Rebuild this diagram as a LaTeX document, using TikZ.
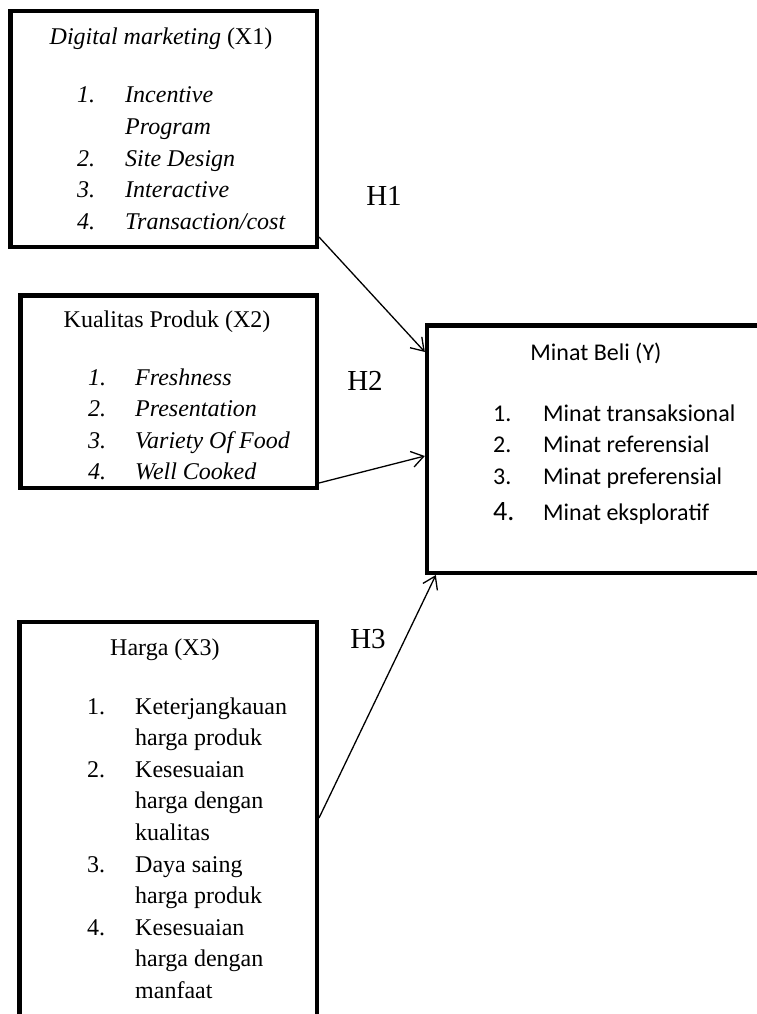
\documentclass[tikz,border=0pt]{standalone}
\usepackage{fontspec}
\setmainfont{Liberation Serif}[ItalicFont={Liberation Serif Italic},BoldFont={Liberation Serif Bold}]
\newfontfamily\calibri{Carlito}
\usetikzlibrary{arrows.meta,positioning,calc}

\tikzset{
  varbox/.style={draw,line width=4.5pt,rectangle,inner sep=0pt},
  boxtitle/.style={anchor=base,inner sep=0pt,font=\fontsize{24}{31.6}\selectfont},
  items/.style={anchor=base west,inner sep=0pt,font=\fontsize{24}{31.6}\selectfont},
  hyp/.style={anchor=base,inner sep=0pt,font=\fontsize{29}{34}\selectfont},
  path/.style={line width=1.3pt,-{Straight Barb[length=12pt,width=16pt]}}
}

\begin{document}
\begin{tikzpicture}[x=1pt,y=1pt]
\clip (0,0) rectangle (757,-1014);

% variable boxes
\node[varbox,minimum width=306.5pt,minimum height=235.5pt] (x1box) at (163.5,-129) {};
\node[varbox,minimum width=296.5pt,minimum height=192.5pt] (x2box) at (168.5,-391.5) {};
\node[varbox,minimum width=297.5pt,minimum height=408pt] (x3box) at (168,-826) {};
\node[varbox,minimum width=343pt,minimum height=247.5pt] (ybox) at (598.6,-449) {};

% X1
\node[boxtitle] (x1title) at (161,-45) {\textit{Digital marketing} (X1)};
\node[items,font=\fontsize{24}{31.6}\selectfont\itshape] (x1list) at (77,-103) {%
\begin{tabular}[t]{@{}p{48pt}@{}l@{}}
1. & Incentive\\
   & Program\\
2. & Site Design\\
3. & Interactive\\
4. & Transaction/cost
\end{tabular}};

% X2
\node[boxtitle] (x2title) at (167,-327) {Kualitas Produk (X2)};
\node[items,font=\fontsize{24}{31.6}\selectfont\itshape] (x2list) at (88,-385) {%
\begin{tabular}[t]{@{}p{47pt}@{}l@{}}
1. & Freshness\\
2. & Presentation\\
3. & Variety Of Food\\
4. & Well Cooked
\end{tabular}};

% X3
\node[boxtitle] (x3title) at (165,-655) {Harga (X3)};
\node[items] (x3list) at (87,-714) {%
\begin{tabular}[t]{@{}p{48pt}@{}l@{}}
1. & Keterjangkauan\\
   & harga produk\\
2. & Kesesuaian\\
   & harga dengan\\
   & kualitas\\
3. & Daya saing\\
   & harga produk\\
4. & Kesesuaian\\
   & harga dengan\\
   & manfaat
\end{tabular}};

% Y
\node[boxtitle,font=\calibri\fontsize{24}{31.6}\selectfont] (ytitle) at (596,-360) {Minat Beli (Y)};
\node[items,font=\calibri\fontsize{24}{31.6}\selectfont] (ylist) at (493,-421) {%
\begin{tabular}[t]{@{}p{50pt}@{}l@{}}
1. & Minat transaksional\\
2. & Minat referensial\\
3. & Minat preferensial\\[5pt]
{\fontsize{28}{31.6}\selectfont 4.} & Minat eksploratif
\end{tabular}};

% hypotheses
\draw[path] ([yshift=-108pt]x1box.east) -- ([yshift=97pt]ybox.west);
\draw[path] ([yshift=-91.5pt]x2box.east) -- ([yshift=-7pt]ybox.west);
\draw[path] ([yshift=8pt]x3box.east) -- ([xshift=11pt]ybox.south west);

\node[hyp] (h1) at (384,-205) {H1};
\node[hyp] (h2) at (365,-390) {H2};
\node[hyp] (h3) at (368,-648) {H3};
\end{tikzpicture}
\end{document}
